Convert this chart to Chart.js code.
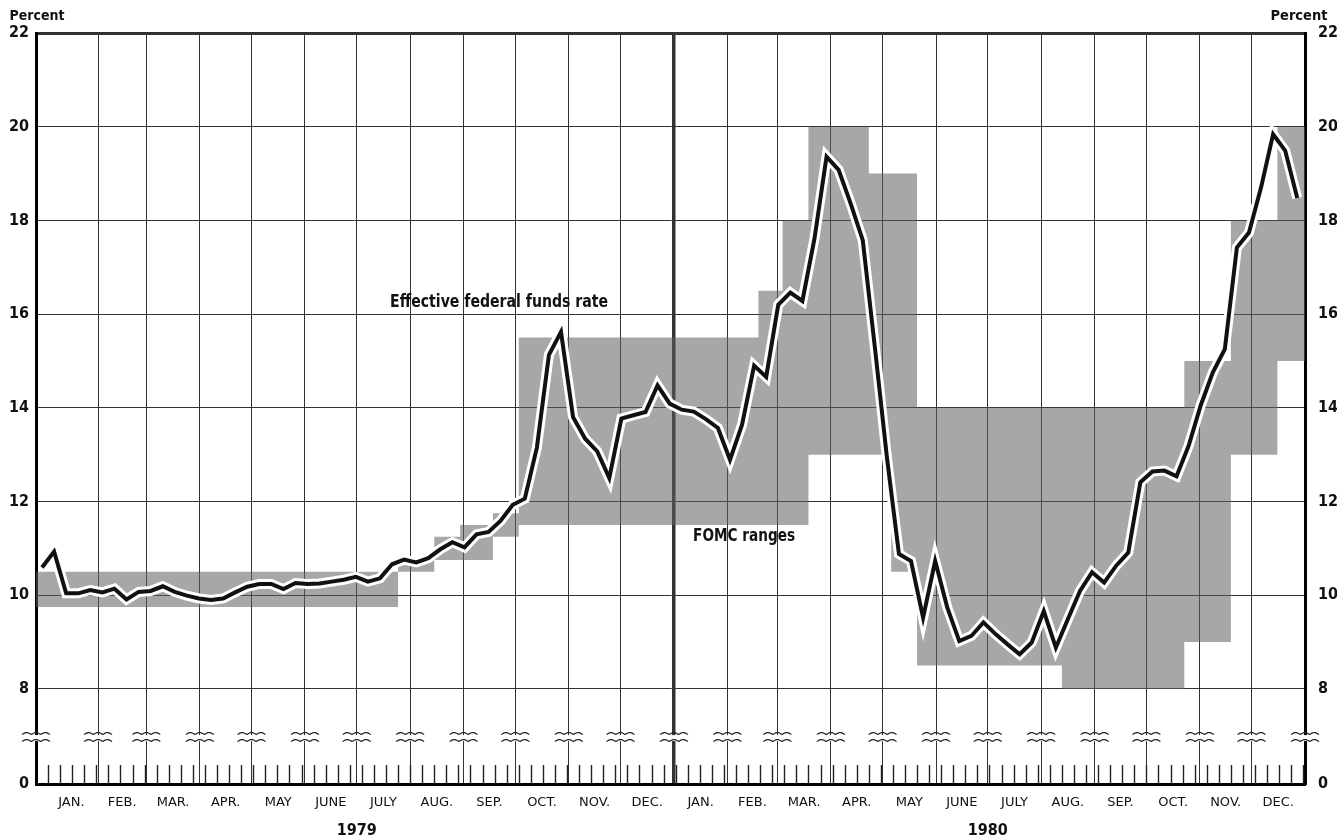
<!DOCTYPE html>
<html>
<head>
<meta charset="utf-8">
<title>Federal funds rate and FOMC ranges, 1979-1980</title>
<script src="https://cdn.jsdelivr.net/npm/chart.js@4.4.1/dist/chart.umd.min.js"></script>
<style>
  html, body { margin: 0; padding: 0; background: #fff; }
  canvas { display: block; }
</style>
</head>
<body>
<canvas id="rateChart" width="1337" height="839"></canvas>
<script>
// Effective federal funds rate, weekly averages (weeks ending Wednesday),
// Jan 3, 1979 through Dec 31, 1980..
const fundsRate = [
    10.59, 10.93, 10.04, 10.04, 10.11, 10.06, 10.14, 9.91, 10.07, 10.09,
    10.19, 10.07, 9.99, 9.93, 9.90, 9.93, 10.06, 10.18, 10.24, 10.24,
    10.13, 10.26, 10.24, 10.25, 10.29, 10.33, 10.39, 10.29, 10.36, 10.66,
    10.76, 10.70, 10.79, 10.98, 11.13, 11.02, 11.30, 11.35, 11.59, 11.93,
    12.06, 13.15, 15.13, 15.62, 13.80, 13.34, 13.07, 12.50, 13.77, 13.84,
    13.91, 14.48, 14.09, 13.96, 13.92, 13.76, 13.57, 12.89, 13.64, 14.90,
    14.66, 16.20, 16.46, 16.28, 17.61, 19.36, 19.08, 18.36, 17.58, 15.30,
    12.95, 10.88, 10.73, 9.52, 10.73, 9.74, 9.02, 9.13, 9.42, 9.17,
    8.95, 8.74, 8.99, 9.66, 8.88, 9.49, 10.09, 10.49, 10.27, 10.63,
    10.91, 12.41, 12.64, 12.66, 12.54, 13.19, 14.05, 14.75, 15.25, 17.42,
    17.74, 18.70, 19.84, 19.49, 18.48
];
const firstWeekEnd = 2;   // Wed Jan 3, 1979, in days after Jan 1, 1979

// FOMC federal funds ranges: day each range took effect, lower and upper bound
const fomcStart = [-5, 205, 226, 241, 260, 275, 414, 428, 443, 478, 491, 506, 590, 661, 688, 715];
const fomcLow   = [9.75, 10.5, 10.75, 10.75, 11.25, 11.5, 11.5, 11.5, 13, 13, 10.5, 8.5, 8, 9, 13, 15];
const fomcHigh  = [10.5, 10.75, 11.25, 11.5, 11.75, 15.5, 16.5, 18, 20, 19, 19, 14, 14, 15, 18, 20];
const fomcEnd = 731;

const monthLabels = ['JAN.', 'FEB.', 'MAR.', 'APR.', 'MAY', 'JUNE', 'JULY', 'AUG.', 'SEP.', 'OCT.', 'NOV.', 'DEC.',
                     'JAN.', 'FEB.', 'MAR.', 'APR.', 'MAY', 'JUNE', 'JULY', 'AUG.', 'SEP.', 'OCT.', 'NOV.', 'DEC.'];
const monthDays = [31, 28, 31, 30, 31, 30, 31, 31, 30, 31, 30, 31,
                   31, 29, 31, 30, 31, 30, 31, 31, 30, 31, 30, 31];
const yearLabels = ['1979', '1980'];
const yTicks = [8, 10, 12, 14, 16, 18, 20, 22];
const axisZero = 5.97;    // the axis is broken: "0" sits here, below the break
const breakAt = 6.95;

// month start days (0 = Jan 1, 1979)
const monthStart = [0];
monthDays.forEach(d => monthStart.push(monthStart[monthStart.length - 1] + d));
const monthMid = monthLabels.map((m, i) => (monthStart[i] + monthStart[i + 1]) / 2);
const yearMid = [181, 547];

const rateData = fundsRate.map((v, i) => ({ x: firstWeekEnd + 7 * i - 3.5, y: v }));
const lowData = fomcStart.map((d, i) => ({ x: d, y: fomcLow[i] }));
const highData = fomcStart.map((d, i) => ({ x: d, y: fomcHigh[i] }));
lowData.push({ x: fomcEnd, y: fomcLow[fomcLow.length - 1] });
highData.push({ x: fomcEnd, y: fomcHigh[fomcHigh.length - 1] });

const condensed = '"DejaVu Sans Condensed", "Liberation Sans Narrow", "DejaVu Sans", sans-serif';

function yAxisTicks(axis) {
    axis.ticks = [axisZero].concat(yTicks).map(v => ({ value: v }));
}

// text squeezed to a given width, like the condensed lettering of the original
function fittedText(ctx, text, cx, cy, width, font) {
    ctx.font = font;
    const w = ctx.measureText(text).width;
    ctx.save();
    ctx.translate(cx, cy);
    ctx.scale(width / w, 1);
    ctx.fillText(text, 0, 0);
    ctx.restore();
}

const decor = {
    id: 'decor',
    afterDraw(chart) {
        const { ctx, chartArea: a } = chart;
        const x = chart.scales.x, y = chart.scales.y;
        ctx.save();

        // weekly tick marks along the bottom
        ctx.strokeStyle = '#222';
        ctx.lineWidth = 1.4;
        for (let d = firstWeekEnd; d <= fomcEnd; d += 7) {
            const px = Math.round(x.getPixelForValue(d)) + 0.5;
            ctx.beginPath();
            ctx.moveTo(px, a.bottom);
            ctx.lineTo(px, a.bottom - 19);
            ctx.stroke();
        }

        // axis break marks on every vertical line
        const yb = y.getPixelForValue(breakAt);
        const xs = [a.left].concat(monthStart.slice(1, 24).map(d => x.getPixelForValue(d)), [a.right]);
        xs.forEach(px => {
            ctx.fillStyle = '#fff';
            ctx.fillRect(px - 3, yb - 3, 6, 6);
            ctx.strokeStyle = '#222';
            ctx.lineWidth = 1.2;
            [-3.5, 3.5].forEach(off => {
                ctx.beginPath();
                for (let t = 0; t <= 28; t++) {
                    const yy = yb + off - 2 * Math.abs(Math.sin(Math.PI * t / 9.33));
                    if (t === 0) ctx.moveTo(px - 14 + t, yy);
                    else ctx.lineTo(px - 14 + t, yy);
                }
                ctx.stroke();
            });
        });

        // labels
        ctx.fillStyle = '#111';
        ctx.textAlign = 'center';
        ctx.textBaseline = 'middle';
        fittedText(ctx, 'Percent', 37, 16, 55, 'bold 14px ' + condensed);
        fittedText(ctx, 'Percent', 1299, 16, 57, 'bold 14px ' + condensed);
        fittedText(ctx, 'Effective federal funds rate',
            x.getPixelForValue(263.6), y.getPixelForValue(16.24), 218, 'bold 17px ' + condensed);
        fittedText(ctx, 'FOMC ranges',
            x.getPixelForValue(405.7), y.getPixelForValue(11.26), 102, 'bold 17px ' + condensed);
        ctx.restore();
    }
};

const ctx = document.getElementById('rateChart').getContext('2d');
const chart = new Chart(ctx, {
    type: 'line',
    data: {
        datasets: [
            {
                label: 'Effective federal funds rate',
                data: rateData,
                borderColor: '#111',
                borderWidth: 4,
                pointRadius: 0,
                order: 0
            },
            {
                label: 'halo',
                data: rateData,
                borderColor: '#fff',
                borderWidth: 10,
                pointRadius: 0,
                order: 1
            },
            {
                label: 'FOMC ranges',
                data: highData,
                stepped: true,
                borderWidth: 0,
                pointRadius: 0,
                backgroundColor: 'rgba(95, 95, 95, 0.55)',
                fill: 3,
                order: 2
            },
            {
                label: 'FOMC low',
                data: lowData,
                stepped: true,
                borderWidth: 0,
                pointRadius: 0,
                fill: false,
                order: 3
            }
        ]
    },
    options: {
        responsive: false,
        animation: false,
        layout: { padding: { top: 33 } },
        plugins: {
            legend: { display: false },
            tooltip: { enabled: false }
        },
        scales: {
            x: {
                type: 'linear',
                position: 'bottom',
                min: -5,
                max: fomcEnd,
                weight: 0,
                afterBuildTicks: axis => { axis.ticks = monthStart.slice(1, 24).map(v => ({ value: v })); },
                afterFit: axis => { axis.height = 0; },
                ticks: { display: false },
                grid: {
                    color: '#333',
                    lineWidth: c => (c.tick && c.tick.value === 365 ? 3.5 : 1),
                    drawTicks: false
                },
                border: { color: '#000', width: 3 }
            },
            xm: {
                type: 'linear',
                position: 'bottom',
                min: -5,
                max: fomcEnd,
                weight: 1,
                afterBuildTicks: axis => { axis.ticks = monthMid.map(v => ({ value: v })); },
                afterFit: axis => { axis.height = 30; },
                ticks: {
                    autoSkip: false,
                    maxRotation: 0,
                    padding: 3,
                    color: '#111',
                    font: { family: '"DejaVu Sans", sans-serif', size: 13 },
                    callback: (v, i) => monthLabels[i]
                },
                grid: { display: false },
                border: { display: false }
            },
            xy: {
                type: 'linear',
                position: 'bottom',
                min: -5,
                max: fomcEnd,
                weight: 2,
                afterBuildTicks: axis => { axis.ticks = yearMid.map(v => ({ value: v })); },
                afterFit: axis => { axis.height = 25; },
                ticks: {
                    autoSkip: false,
                    maxRotation: 0,
                    padding: -1,
                    color: '#111',
                    font: { family: condensed, size: 16, weight: 'bold' },
                    callback: (v, i) => yearLabels[i]
                },
                grid: { display: false },
                border: { display: false }
            },
            y: {
                type: 'linear',
                position: 'left',
                min: axisZero,
                max: 22,
                afterBuildTicks: yAxisTicks,
                afterFit: axis => { axis.width = 36; },
                ticks: {
                    padding: 7,
                    color: '#111',
                    font: { family: condensed, size: 16, weight: 'bold' },
                    callback: v => (v === axisZero ? '0' : String(v))
                },
                grid: {
                    color: c => (c.tick && c.tick.value === axisZero ? 'rgba(0,0,0,0)' : '#333'),
                    lineWidth: c => (c.tick && c.tick.value === 22 ? 3 : 1),
                    drawTicks: false
                },
                border: { color: '#000', width: 3 }
            },
            y2: {
                type: 'linear',
                position: 'right',
                min: axisZero,
                max: 22,
                afterBuildTicks: yAxisTicks,
                afterFit: axis => { axis.width = 32; },
                ticks: {
                    padding: 5,
                    color: '#111',
                    font: { family: condensed, size: 16, weight: 'bold' },
                    callback: v => (v === axisZero ? '0' : String(v))
                },
                grid: { display: false },
                border: { color: '#000', width: 3 }
            }
        }
    },
    plugins: [decor]
});
</script>
</body>
</html>
